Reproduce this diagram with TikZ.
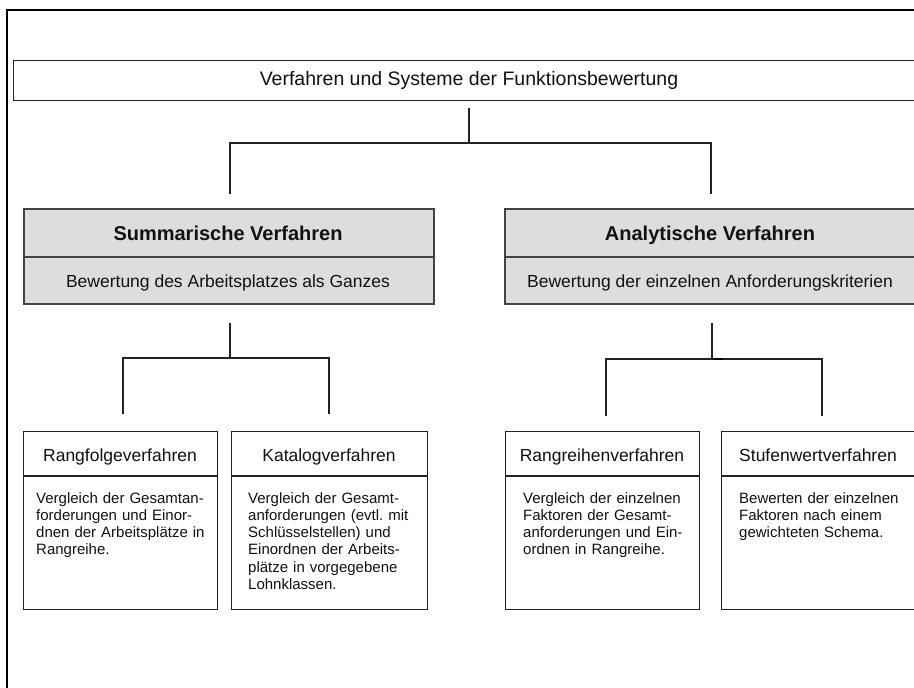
\documentclass[tikz,border=0pt]{standalone}
\usepackage{fontspec}
\setmainfont{Liberation Sans}
\usetikzlibrary{calc}
\frenchspacing

\definecolor{boxgray}{HTML}{DDDDDD}
\definecolor{ink}{HTML}{111111}
\definecolor{edge}{HTML}{222222}

\tikzset{
  frameline/.style={line width=2.5pt, draw=black},
  plainbox/.style={rectangle, draw=edge, line width=1.1pt, inner sep=0pt, anchor=north west},
  graybox/.style={rectangle, draw=edge!85!white, fill=boxgray, line width=1.5pt, inner sep=0pt, anchor=north west},
  divider/.style={draw=edge!85!white, line width=1.5pt},
  link/.style={draw=edge, line width=1.2pt},
  toptext/.style={text=ink, inner sep=0pt, anchor=base, font=\fontsize{19.5}{23}\selectfont},
  headtext/.style={text=ink, inner sep=0pt, anchor=base, font=\bfseries\fontsize{20}{24}\selectfont},
  subtext/.style={text=ink, inner sep=0pt, anchor=base, font=\fontsize{17.5}{21}\selectfont},
  bodytext/.style={text=ink, inner sep=0pt, anchor=base west, align=left, text width=190pt,
                   font=\fontsize{15}{17.33}\selectfont},
}

\begin{document}
\begin{tikzpicture}[x=1pt, y=-1pt]
  \useasboundingbox (0,0) rectangle (914,688);

  % outer frame (open to the right and bottom)
  \draw[frameline] (7,700) -- (7,10) -- (930,10);

  % top box
  \node[plainbox, minimum width=912pt, minimum height=40pt] (top) at (13,60) {};
  \node[toptext] (toplbl) at (469,85) {Verfahren und Systeme der Funktionsbewertung};

  % two main groups
  \node[graybox, minimum width=410pt, minimum height=95pt] (sum) at (23,208) {};
  \draw[divider] (sum.west |- 0,257) -- (sum.east |- 0,257);
  \node[headtext] (sumhd) at (228,240) {Summarische Verfahren};
  \node[subtext] (sumsub) at (228,287) {Bewertung des Arbeitsplatzes als Ganzes};

  \node[graybox, minimum width=412pt, minimum height=95pt] (ana) at (504,208) {};
  \draw[divider] (ana.west |- 0,257) -- (ana.east |- 0,257);
  \node[headtext] (anahd) at (710,240) {Analytische Verfahren};
  \node[subtext] (anasub) at (710,287) {Bewertung der einzelnen Anforderungskriterien};

  % leaf boxes
  \node[plainbox, minimum width=194pt, minimum height=178pt] (rf) at (23,431) {};
  \node[plainbox, minimum width=196pt, minimum height=178pt] (kat) at (231,431) {};
  \node[plainbox, minimum width=194pt, minimum height=178pt] (rr) at (505,431) {};
  \node[plainbox, minimum width=195pt, minimum height=178pt] (stw) at (721,431) {};
  \foreach \b in {rf,kat,rr,stw}
    \draw[link] (\b.west |- 0,476) -- (\b.east |- 0,476);

  \node[subtext] (rfhd) at (120,461) {Rangfolgeverfahren};
  \node[subtext] (kathd) at (329,461) {Katalogverfahren};
  \node[subtext] (rrhd) at (602,461) {Rangreihenverfahren};
  \node[subtext] (stwhd) at (818,461) {Stufenwertverfahren};

  \node[bodytext] (rftx) at (36,503) {Vergleich der Gesamtan-\\forderungen und Einor-\\dnen der Arbeitsplätze in\\Rangreihe.};
  \node[bodytext] (kattx) at (248,503) {Vergleich der Gesamt-\\anforderungen (evtl. mit\\Schlüsselstellen) und\\Einordnen der Arbeits-\\plätze in vorgegebene\\Lohnklassen.};
  \node[bodytext] (rrtx) at (523,503) {Vergleich der einzelnen\\Faktoren der Gesamt-\\anforderungen und Ein-\\ordnen in Rangreihe.};
  \node[bodytext] (stwtx) at (739,503) {Bewerten der einzelnen\\Faktoren nach einem\\gewichteten Schema.};

  % connector junctions
  \coordinate (t0) at (469,108);
  \coordinate (t1) at (469,143);
  \coordinate (tl) at (230,143);
  \coordinate (tr) at (711,143);
  \coordinate (tlb) at (230,194);
  \coordinate (trb) at (711,194);

  \coordinate (s0) at (230,323);
  \coordinate (s1) at (230,358);
  \coordinate (sl) at (123,358);
  \coordinate (sr) at (329,358);
  \coordinate (slb) at (123,414);
  \coordinate (srb) at (329,414);

  \coordinate (a0) at (712,323);
  \coordinate (a1) at (712,359);
  \coordinate (al) at (606,359);
  \coordinate (ar) at (822,359);
  \coordinate (alb) at (606,416);
  \coordinate (arb) at (822,416);
  \coordinate (aj) at (723,359);

  % connectors
  \draw[link] (t0) -- (t1);
  \draw[link] (tlb) -- (tl) -- (tr) -- (trb);
  \draw[link] (s0) -- (s1);
  \draw[link] (slb) -- (sl) -- (sr) -- (srb);
  \draw[link] (a0) -- (a1);
  \draw[link] (alb) -- (al) -- (ar) -- (arb);
  % slightly heavier stub right of the junction
  \draw[draw=black, line width=2.2pt] (a1) -- (aj);
\end{tikzpicture}
\end{document}
